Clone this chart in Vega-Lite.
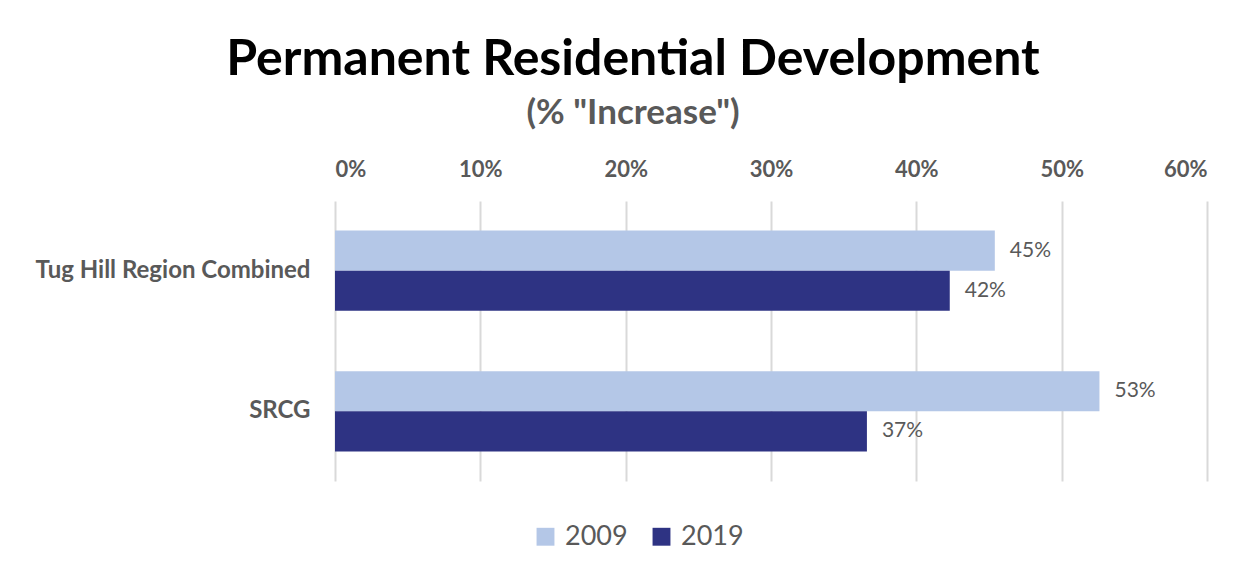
{
  "$schema": "https://vega.github.io/schema/vega-lite/v6.json",
  "width": 872,
  "height": 280,
  "autosize": {"type": "none"},
  "padding": {"left": 335, "top": 201, "right": 48, "bottom": 97},
  "background": "white",
  "title": {
    "text": "Permanent Residential Development",
    "subtitle": "(% \"Increase\")",
    "anchor": "middle",
    "frame": "group",
    "dx": -138,
    "offset": 27,
    "font": "Lato",
    "fontSize": 50,
    "fontWeight": "bold",
    "color": "#000000",
    "subtitleFont": "Lato",
    "subtitleFontSize": 35,
    "subtitleFontWeight": "bold",
    "subtitleColor": "#595959",
    "subtitlePadding": 11
  },
  "data": {
    "values": [
      {"region": "Tug Hill Region Combined", "year": "2009", "value": 0.454},
      {"region": "Tug Hill Region Combined", "year": "2019", "value": 0.423},
      {"region": "SRCG", "year": "2009", "value": 0.526},
      {"region": "SRCG", "year": "2019", "value": 0.366}
    ]
  },
  "encoding": {
    "y": {
      "field": "region",
      "type": "nominal",
      "sort": ["Tug Hill Region Combined", "SRCG"],
      "scale": {"paddingInner": 0.43, "paddingOuter": 0.21},
      "axis": {
        "title": null,
        "domain": false,
        "ticks": false,
        "labelFont": "Lato",
        "labelFontSize": 24,
        "labelFontWeight": "bold",
        "labelColor": "#595959",
        "labelPadding": 25,
        "labelLimit": 400
      }
    },
    "yOffset": {"field": "year", "type": "nominal", "sort": ["2009", "2019"]},
    "x": {
      "field": "value",
      "type": "quantitative",
      "scale": {"domain": [0, 0.6], "nice": false},
      "axis": {
        "orient": "top",
        "title": null,
        "format": ".0%",
        "values": [0, 0.1, 0.2, 0.3, 0.4, 0.5, 0.6],
        "domain": false,
        "ticks": false,
        "grid": true,
        "gridColor": "#d9d9d9",
        "gridWidth": 2,
        "labelFont": "Lato",
        "labelFontSize": 22,
        "labelFontWeight": "bold",
        "labelColor": "#595959",
        "labelPadding": 20
      }
    }
  },
  "layer": [
    {
      "mark": {"type": "bar"},
      "encoding": {
        "color": {
          "field": "year",
          "type": "nominal",
          "scale": {"domain": ["2009", "2019"], "range": ["#b4c7e7", "#2e3383"]},
          "legend": {
            "title": null,
            "orient": "none",
            "direction": "horizontal",
            "legendX": 197,
            "legendY": 322,
            "symbolType": "square",
            "symbolSize": 320,
            "symbolStrokeWidth": 0,
            "labelFont": "Lato",
            "labelFontSize": 27,
            "labelColor": "#595959",
            "columnPadding": 20,
            "labelOffset": 6
          }
        }
      }
    },
    {
      "mark": {"type": "text", "align": "left", "dx": 15, "font": "Lato", "fontSize": 21, "color": "#595959"},
      "encoding": {
        "text": {"field": "value", "type": "quantitative", "format": ".0%"}
      }
    }
  ],
  "config": {
    "view": {"stroke": null}
  }
}
